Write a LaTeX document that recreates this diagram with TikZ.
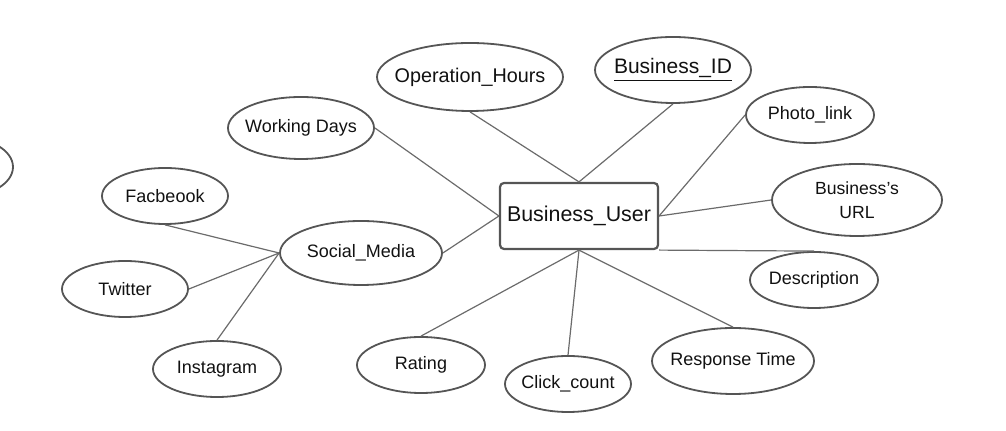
\documentclass[tikz,border=0pt]{standalone}
\usepackage{fontspec}
\setmainfont{Liberation Sans}
\usetikzlibrary{shapes.geometric}
\definecolor{rimgray}{HTML}{555555}
\definecolor{edgegray}{HTML}{6B6B6B}
\definecolor{inkblack}{HTML}{111111}
\newcommand{\inell}[1]{\makebox[0pt]{#1}}
\begin{document}
\begin{tikzpicture}[x=0.5pt,y=-0.5pt,
            attr/.style={ellipse, draw=rimgray, line width=0.9pt, text=inkblack, inner sep=0pt, font=\fontsize{9}{11}\selectfont},
            entity/.style={draw=rimgray, line width=1.1pt, rounded corners=2pt, text=inkblack, minimum width=79pt, minimum height=33pt, font=\fontsize{10.7}{13}\selectfont},
            link/.style={draw=edgegray, line width=0.6pt}]
            \useasboundingbox (0,0) rectangle (1006,431);
            \clip (0,0) rectangle (1006,431);
            \node[attr, minimum width=51pt, minimum height=30pt] (extra) at (-38,167) {};
            \node[attr, minimum width=73pt, minimum height=31pt] (wd) at (301,128) {\inell{Working Days}};
            \node[attr, minimum width=93pt, minimum height=34pt, font=\fontsize{9.9}{12}\selectfont] (oh) at (470,77) {\inell{Operation\_Hours}};
            \node[attr, minimum width=78pt, minimum height=33pt, font=\fontsize{10.5}{12}\selectfont] (bid) at (673,70) {\inell{\underline{Business\_ID}}};
            \node[attr, minimum width=64pt, minimum height=28pt] (photo) at (810,115) {\inell{Photo\_link}};
            \node[attr, minimum width=85pt, minimum height=36pt, align=center, font=\fontsize{8.8}{12}\selectfont] (url) at (857,200) {Business's\\URL};
            \node[attr, minimum width=64pt, minimum height=28pt] (desc) at (814,280) {\inell{Description}};
            \node[attr, minimum width=81pt, minimum height=33pt] (resp) at (733,361) {\inell{Response Time}};
            \node[attr, minimum width=63pt, minimum height=28pt] (click) at (568,384) {\inell{Click\_count}};
            \node[attr, minimum width=64pt, minimum height=28pt] (rating) at (421,365) {\inell{Rating}};
            \node[attr, minimum width=81pt, minimum height=32pt] (sm) at (361,253) {\inell{Social\_Media}};
            \node[attr, minimum width=63pt, minimum height=28pt] (fb) at (165,196) {\inell{Facbeook}};
            \node[attr, minimum width=63pt, minimum height=28pt] (tw) at (125,289) {\inell{Twitter}};
            \node[attr, minimum width=64pt, minimum height=28pt] (ig) at (217,369) {\inell{Instagram}};
            \node[entity] (user) at (579,216) {Business\_User};
            \draw[link] (wd.east) -- (user.west);
            \draw[link] (sm.east) -- (user.west);
            \draw[link] (oh.south) -- (user.north);
            \draw[link] (bid.south) -- (user.north);
            \draw[link] (photo.west) -- (user.east);
            \draw[link] (url.west) -- (user.east);
            \draw[link] (user.south east) -- (desc.north);
            \draw[link] (user.south) -- (rating.north);
            \draw[link] (user.south) -- (click.north);
            \draw[link] (user.south) -- (resp.north);
            \draw[link] (sm.west) -- (fb.south);
            \draw[link] (sm.west) -- (tw.east);
            \draw[link] (sm.west) -- (ig.north);
\end{tikzpicture}
\end{document}
